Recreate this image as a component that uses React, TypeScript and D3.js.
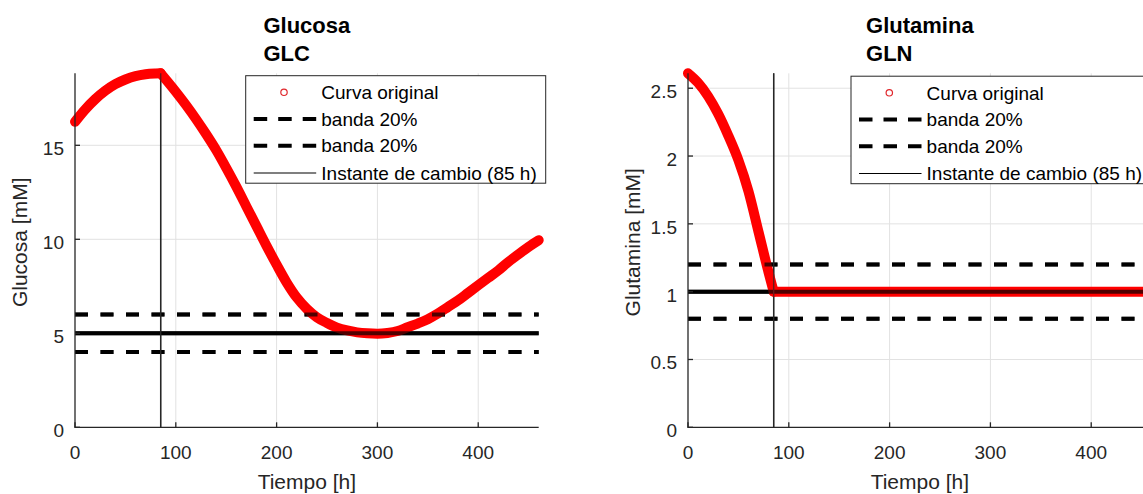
import React, { useEffect, useRef } from 'react';
import * as d3 from 'd3';

// ---------- data ----------
const timeGLC = [0, 10, 20, 30, 40, 50, 60, 70, 80, 85, 100, 110, 120, 130, 140, 150, 160, 170, 180, 190, 200, 210, 220, 230, 240, 250, 260, 270, 280, 290, 300, 310, 320, 330, 340, 350, 360, 370, 380, 390, 400, 410, 420, 430, 440, 450, 460];
const glucosa = [16.25, 16.9, 17.45, 17.9, 18.25, 18.5, 18.68, 18.78, 18.82, 18.83, 17.85, 17.15, 16.4, 15.6, 14.75, 13.8, 12.8, 11.75, 10.7, 9.65, 8.65, 7.7, 6.9, 6.3, 5.85, 5.55, 5.3, 5.15, 5.05, 5.0, 4.98, 5.02, 5.12, 5.32, 5.52, 5.75, 6.05, 6.4, 6.75, 7.15, 7.55, 7.95, 8.35, 8.8, 9.2, 9.6, 9.95];

const timeGLN = [0, 10, 20, 30, 40, 50, 60, 70, 80, 85, 100, 150, 200, 250, 300, 350, 400, 460];
const glutamina = [2.61, 2.54, 2.44, 2.31, 2.15, 1.97, 1.74, 1.44, 1.14, 1.0, 1.0, 1.0, 1.0, 1.0, 1.0, 1.0, 1.0, 1.0];

const xTicks = [0, 100, 200, 300, 400];
const yTicksGLC = [0, 5, 10, 15];
const yTicksGLN = [0, 0.5, 1, 1.5, 2, 2.5];
const yTickLabelsGLN = ['0', '0.5', '1', '1.5', '2', '2.5'];

const setpointGLC = 5;
const bandGLC = [6, 4];
const setpointGLN = 1;
const bandGLN = [1.2, 0.8];
const changeTime = 85;
const xMax = 460;

const titlesGLC = ['Glucosa', 'GLC'];
const titlesGLN = ['Glutamina', 'GLN'];
const yLabelGLC = 'Glucosa [mM]';
const yLabelGLN = 'Glutamina [mM]';
const xLabel = 'Tiempo [h]';
const legendLabels = ['Curva original', 'banda 20%', 'banda 20%', 'Instante de cambio (85 h)'];

const FONT = "'Liberation Sans', Arial, Helvetica, sans-serif";
const AX = '#262626';

interface Panel {
  left: number; right: number; top: number; bottom: number;
  t: number[]; v: number[]; yTicks: number[]; yTickLabels: string[];
  setpoint: number; band: number[]; titles: string[]; yLabel: string;
  legendX: number; legendY: number;
}

const panels: Panel[] = [
  {
    left: 75, right: 538.7, top: 73.3, bottom: 427.3,
    t: timeGLC, v: glucosa, yTicks: yTicksGLC, yTickLabels: yTicksGLC.map(String),
    setpoint: setpointGLC, band: bandGLC, titles: titlesGLC, yLabel: yLabelGLC,
    legendX: 245.7, legendY: 75.7,
  },
  {
    left: 688, right: 1151.7, top: 73.3, bottom: 427.3,
    t: timeGLN, v: glutamina, yTicks: yTicksGLN, yTickLabels: yTickLabelsGLN,
    setpoint: setpointGLN, band: bandGLN, titles: titlesGLN, yLabel: yLabelGLN,
    legendX: 851, legendY: 76.2,
  },
];

function drawPanel(svg: d3.Selection<SVGSVGElement, unknown, null, undefined>, p: Panel) {
  const g = svg.append('g');
  const x = d3.scaleLinear().domain([0, xMax]).range([p.left, p.right]);
  const yMax = d3.max(p.v) as number;
  const y = d3.scaleLinear().domain([0, yMax]).range([p.bottom, p.top]);

  // grid
  const grid = g.append('g').attr('stroke', '#e2e2e2').attr('stroke-width', 1);
  xTicks.filter((d) => d > 0).forEach((d) => {
    grid.append('line').attr('x1', x(d)).attr('x2', x(d)).attr('y1', p.top).attr('y2', p.bottom);
  });
  p.yTicks.filter((d) => d > 0).forEach((d) => {
    grid.append('line').attr('x1', p.left).attr('x2', p.right).attr('y1', y(d)).attr('y2', y(d));
  });

  const drawRefLines = (opacity: number) => {
    const r = g.append('g').attr('opacity', opacity);
    p.band.forEach((b) => {
      r.append('line').attr('x1', p.left).attr('x2', p.right).attr('y1', y(b)).attr('y2', y(b))
        .attr('stroke', '#000').attr('stroke-width', 4).attr('stroke-dasharray', '13,12.5');
    });
    r.append('line').attr('x1', p.left).attr('x2', p.right).attr('y1', y(p.setpoint)).attr('y2', y(p.setpoint))
      .attr('stroke', '#000').attr('stroke-width', 4);
    r.append('line').attr('x1', x(changeTime)).attr('x2', x(changeTime)).attr('y1', p.bottom).attr('y2', p.top)
      .attr('stroke', AX).attr('stroke-width', 1.4);
  };
  drawRefLines(1);

  // red curve (hollow circle markers in the original), split at the change instant
  const pts = p.t.map((t, i) => [t, p.v[i]] as [number, number]);
  const before = pts.filter((d) => d[0] <= changeTime);
  const after = pts.filter((d) => d[0] >= changeTime);
  const line = d3.line<[number, number]>().x((d) => x(d[0])).y((d) => y(d[1])).curve(d3.curveMonotoneX);
  [before, after].forEach((seg) => {
    g.append('path').attr('d', line(seg) as string).attr('fill', 'none')
      .attr('stroke', '#ff0000').attr('stroke-width', 10)
      .attr('stroke-linejoin', 'round').attr('stroke-linecap', 'round');
  });

  // black lines showing through the hollow markers
  drawRefLines(0.68);

  // axes (box off)
  const axes = g.append('g').attr('stroke', AX).attr('stroke-width', 1.3);
  axes.append('line').attr('x1', p.left).attr('x2', p.left).attr('y1', p.top).attr('y2', p.bottom + 0.5);
  axes.append('line').attr('x1', p.left - 0.5).attr('x2', p.right).attr('y1', p.bottom).attr('y2', p.bottom);
  xTicks.forEach((d) => {
    axes.append('line').attr('x1', x(d)).attr('x2', x(d)).attr('y1', p.bottom).attr('y2', p.bottom - 5);
  });
  p.yTicks.forEach((d) => {
    axes.append('line').attr('x1', p.left).attr('x2', p.left + 5).attr('y1', y(d)).attr('y2', y(d));
  });

  const labels = g.append('g').attr('font-family', FONT).attr('fill', AX);
  xTicks.forEach((d) => {
    labels.append('text').attr('x', x(d)).attr('y', p.bottom + 32).attr('text-anchor', 'middle')
      .attr('font-size', 19).text(String(d));
  });
  p.yTicks.forEach((d, i) => {
    labels.append('text').attr('x', p.left - 11).attr('y', y(d) + 10).attr('text-anchor', 'end')
      .attr('font-size', 19).text(p.yTickLabels[i]);
  });
  labels.append('text').attr('x', (p.left + p.right) / 2).attr('y', 489).attr('text-anchor', 'middle')
    .attr('font-size', 21).text(xLabel);
  labels.append('text').attr('transform', `translate(${p.left - 48},${(p.top + p.bottom) / 2 - 8}) rotate(-90)`)
    .attr('text-anchor', 'middle').attr('font-size', 21).text(p.yLabel);

  // title: block centred, lines left-aligned
  const cx = (p.left + p.right) / 2;
  const t1 = g.append('text').attr('font-family', FONT).attr('font-weight', 'bold').attr('font-size', 22)
    .attr('fill', '#000').attr('y', 33).text(p.titles[0]);
  const w = (t1.node() as SVGTextElement).getComputedTextLength();
  t1.attr('x', cx - w / 2);
  g.append('text').attr('font-family', FONT).attr('font-weight', 'bold').attr('font-size', 22)
    .attr('fill', '#000').attr('x', cx - w / 2).attr('y', 61).text(p.titles[1]);

  // legend
  const lg = g.append('g').attr('transform', `translate(${p.legendX},${p.legendY})`);
  lg.append('rect').attr('width', 300).attr('height', 107.5).attr('fill', '#fff')
    .attr('stroke', AX).attr('stroke-width', 1);
  const rows = [16.6, 43.3, 70, 97.3];
  lg.append('circle').attr('cx', 38.3).attr('cy', rows[0]).attr('r', 3.2).attr('fill', 'none')
    .attr('stroke', '#e0262b').attr('stroke-width', 1.2);
  [1, 2].forEach((i) => {
    lg.append('line').attr('x1', 8).attr('x2', 70.5).attr('y1', rows[i]).attr('y2', rows[i])
      .attr('stroke', '#000').attr('stroke-width', 4).attr('stroke-dasharray', '13.5,11');
  });
  lg.append('line').attr('x1', 8).attr('x2', 70.5).attr('y1', rows[3]).attr('y2', rows[3])
    .attr('stroke', '#000').attr('stroke-width', 1.2);
  legendLabels.forEach((txt, i) => {
    lg.append('text').attr('x', 75.6).attr('y', rows[i] + 6.8).attr('font-family', FONT)
      .attr('font-size', 19).attr('fill', '#000').text(txt);
  });
}

export default function App() {
  const ref = useRef<SVGSVGElement>(null);
  useEffect(() => {
    if (!ref.current) return;
    const svg = d3.select(ref.current);
    svg.selectAll('*').remove();
    svg.append('rect').attr('width', 1143).attr('height', 494).attr('fill', '#fff');
    panels.forEach((p) => drawPanel(svg, p));
  }, []);
  return (
    <svg ref={ref} width={1143} height={494}
      style={{ position: 'absolute', left: 0, top: 0, display: 'block', background: '#fff' }} />
  );
}
